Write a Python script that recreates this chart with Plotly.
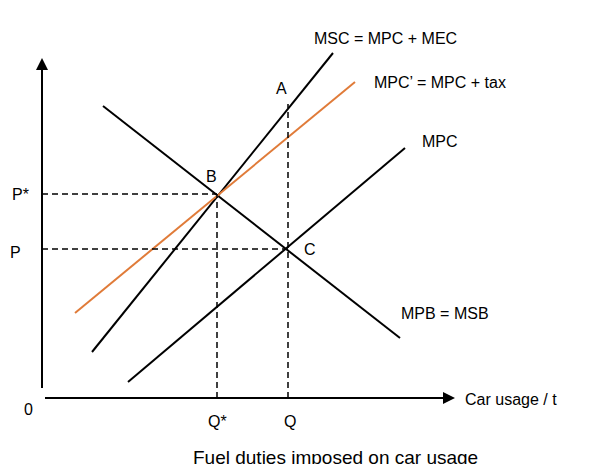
import plotly.graph_objects as go

# coordinates in chart units (origin at axes corner)
mpb_x = [61, 358]; mpb_y = [292, 60]
msc_x = [50, 291]; msc_y = [46, 345]
mpct_x = [33, 313]; mpct_y = [85, 316]
mpc_x = [86, 363]; mpc_y = [16, 250]
p_star, p = 204, 149
q_star, q = 175, 246
a_y = 294

fig = go.Figure()
blk = dict(color="black", width=2)
fig.add_trace(go.Scatter(x=mpb_x, y=mpb_y, mode="lines", line=blk))
fig.add_trace(go.Scatter(x=msc_x, y=msc_y, mode="lines", line=blk))
fig.add_trace(go.Scatter(x=mpc_x, y=mpc_y, mode="lines", line=blk))
fig.add_trace(go.Scatter(x=mpct_x, y=mpct_y, mode="lines", line=dict(color="#E07B39", width=2)))
dash = dict(color="black", width=1.5, dash="6px,4px")
fig.add_trace(go.Scatter(x=[0, q_star], y=[p_star, p_star], mode="lines", line=dash))
fig.add_trace(go.Scatter(x=[0, q], y=[p, p], mode="lines", line=dash))
fig.add_trace(go.Scatter(x=[q_star, q_star], y=[0, p_star], mode="lines", line=dash))
fig.add_trace(go.Scatter(x=[q, q], y=[0, a_y], mode="lines", line=dash))

ann = []
f = dict(family="Liberation Sans, Arial", size=16, color="black")
def t(x, y, s, xa="center", size=16):
    ann.append(dict(x=x, y=y, text=s, showarrow=False, font=dict(f, size=size), xanchor=xa))
t(-35, 355, "Costs / Benefits", "left")
t(-22, p_star, "P*"); t(-27, p - 3, "P"); t(-14, -11, "0")
t(q_star, -23, "Q*"); t(q + 2, -23, "Q")
t(421, -1, "Car usage / t", "left")
t(343, 360, "MSC = MPC + MEC"); t(398, 316, "MPC’ = MPC + tax")
t(398, 257, "MPC"); t(403, 85, "MPB = MSB")
t(239, 310, "A"); t(169, 222, "B"); t(268, 149, "C")
t(293, -59, "<u>Fuel duties imposed on car usage</u>", size=19)
ann.append(dict(x=0, y=340, ax=0, ay=0, axref="x", ayref="y", showarrow=True,
                arrowhead=2, arrowsize=1.2, arrowwidth=2, arrowcolor="black"))
ann.append(dict(x=413, y=0, ax=0, ay=0, axref="x", ayref="y", showarrow=True,
                arrowhead=2, arrowsize=1.2, arrowwidth=2, arrowcolor="black"))
fig.update_layout(annotations=ann, width=590, height=464, showlegend=False,
                  margin=dict(l=0, r=0, t=0, b=0), plot_bgcolor="white", paper_bgcolor="white",
                  xaxis=dict(range=[-34, 556], visible=False),
                  yaxis=dict(range=[-74, 390], visible=False))
fig.write_html("out.html")
